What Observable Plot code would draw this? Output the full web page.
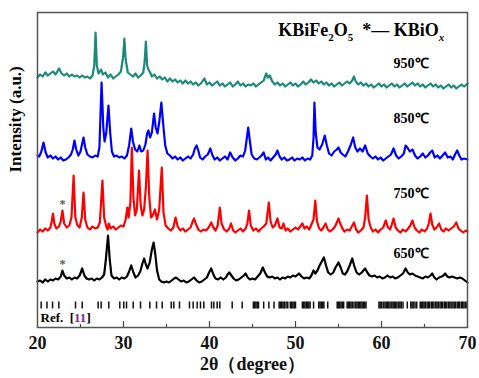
<!DOCTYPE html>
<html>
<head>
<meta charset="utf-8">
<script src="https://cdn.jsdelivr.net/npm/d3@7"></script>
<script src="https://cdn.jsdelivr.net/npm/@observablehq/plot@0.6"></script>
<style>
  html, body { margin: 0; padding: 0; background: #fff; }
  #chart svg { display: block; }
</style>
</head>
<body>
<div id="chart"></div>
<script>
// ---- data: [2θ, intensity (a.u., offset per pattern)] ----
const s950 = [[20.0,250],[20.3,253],[20.6,251],[20.9,255],[21.2,252],[21.5,254],[21.8,256],[22.1,253],[22.5,259],[22.8,254],[23.1,252],[23.4,254],[23.7,251],[24.0,253],[24.3,251],[24.6,252],[24.9,250],[25.2,252],[25.5,250],[25.8,251],[26.1,249],[26.4,252],[26.6,262],[26.75,295],[26.9,262],[27.1,254],[27.4,258],[27.6,253],[27.9,255],[28.2,250],[28.5,253],[28.8,249],[29.1,251],[29.4,253],[29.7,256],[29.95,270],[30.1,289],[30.25,268],[30.5,255],[30.8,253],[31.1,251],[31.4,254],[31.7,250],[32.0,252],[32.3,255],[32.45,265],[32.6,286],[32.75,262],[32.9,258],[33.1,255],[33.3,251],[33.6,253],[33.9,249],[34.2,251],[34.5,248],[34.8,250],[35.1,246],[35.4,249],[35.7,246],[36.0,248],[36.3,245],[36.6,247],[36.9,244],[37.2,247],[37.5,244],[37.8,246],[38.1,243],[38.4,245],[38.7,242],[39.0,244],[39.4,249],[39.7,243],[40.0,245],[40.3,242],[40.6,244],[40.9,246],[41.2,242],[41.5,244],[41.8,241],[42.1,243],[42.4,245],[42.7,241],[43.0,243],[43.3,246],[43.6,242],[43.9,244],[44.2,241],[44.5,243],[44.8,242],[45.1,244],[45.4,241],[45.7,243],[46.0,245],[46.3,247],[46.6,254],[46.8,250],[47.0,252],[47.3,246],[47.6,243],[47.9,245],[48.2,242],[48.5,244],[48.8,241],[49.1,243],[49.4,245],[49.7,242],[50.0,244],[50.3,241],[50.6,243],[50.9,246],[51.2,243],[51.5,245],[51.8,248],[52.1,245],[52.4,247],[52.7,244],[53.0,246],[53.3,243],[53.6,245],[53.9,242],[54.2,244],[54.5,241],[54.8,243],[55.1,245],[55.4,242],[55.7,244],[56.0,246],[56.3,244],[56.6,247],[56.8,251],[57.0,246],[57.3,243],[57.6,245],[57.9,242],[58.2,244],[58.5,241],[58.8,243],[59.1,240],[59.4,242],[59.7,244],[60.0,241],[60.3,243],[60.6,240],[60.9,242],[61.2,244],[61.5,241],[61.8,243],[62.1,240],[62.4,242],[62.7,244],[63.0,241],[63.3,243],[63.6,245],[63.9,242],[64.2,244],[64.5,241],[64.8,243],[65.1,240],[65.4,242],[65.7,244],[66.0,241],[66.3,243],[66.6,240],[66.9,242],[67.2,239],[67.5,241],[67.8,243],[68.1,240],[68.4,242],[68.7,239],[69.0,241],[69.3,243],[69.6,241],[70.0,244]];

const s850 = [[20.0,172],[20.2,171],[20.45,176],[20.7,185],[20.95,175],[21.2,170],[21.5,172],[21.8,169],[22.1,171],[22.4,168],[22.7,170],[23.0,167],[23.3,168],[23.6,170],[23.9,173],[24.1,178],[24.3,187],[24.5,178],[24.75,172],[25.0,176],[25.2,184],[25.35,190],[25.55,180],[25.8,173],[26.1,171],[26.4,170],[26.7,172],[27.0,171],[27.2,180],[27.45,245],[27.65,200],[27.8,186],[28.0,195],[28.25,222],[28.45,195],[28.65,176],[28.9,171],[29.2,172],[29.5,170],[29.8,171],[30.1,169],[30.4,172],[30.65,182],[30.9,199],[31.1,186],[31.35,178],[31.6,176],[31.85,182],[32.05,176],[32.3,177],[32.55,183],[32.75,194],[32.9,197],[33.1,190],[33.3,195],[33.55,214],[33.75,200],[33.95,194],[34.15,205],[34.4,225],[34.6,205],[34.85,182],[35.1,174],[35.4,172],[35.7,169],[36.0,171],[36.3,168],[36.6,170],[36.9,167],[37.2,169],[37.5,171],[37.8,169],[38.1,173],[38.3,179],[38.5,182],[38.7,177],[38.9,170],[39.2,168],[39.5,171],[39.8,173],[40.1,179],[40.35,172],[40.6,168],[40.9,170],[41.2,167],[41.5,169],[41.8,171],[42.1,168],[42.4,175],[42.7,170],[43.0,167],[43.3,169],[43.6,172],[43.9,171],[44.15,177],[44.35,190],[44.5,200],[44.7,186],[44.9,173],[45.2,169],[45.5,168],[45.8,170],[46.05,172],[46.3,175],[46.55,168],[46.8,170],[47.1,167],[47.4,170],[47.7,173],[47.9,177],[48.15,171],[48.4,168],[48.7,170],[49.0,167],[49.3,168],[49.6,170],[49.9,167],[50.2,169],[50.5,168],[50.8,170],[51.1,167],[51.4,169],[51.7,168],[51.95,172],[52.1,190],[52.2,225],[52.35,195],[52.55,180],[52.8,178],[53.1,183],[53.4,192],[53.65,182],[53.9,174],[54.2,172],[54.5,176],[54.8,178],[55.0,180],[55.25,175],[55.5,173],[55.8,171],[56.1,176],[56.4,182],[56.7,190],[56.95,180],[57.2,176],[57.5,179],[57.8,176],[58.1,182],[58.4,174],[58.7,171],[59.0,169],[59.3,171],[59.6,168],[59.9,170],[60.2,167],[60.5,169],[60.8,171],[61.1,173],[61.4,179],[61.7,172],[62.0,169],[62.3,171],[62.6,174],[62.8,182],[63.0,180],[63.3,176],[63.6,178],[63.9,172],[64.2,169],[64.5,171],[64.8,174],[65.1,170],[65.4,172],[65.65,175],[65.9,177],[66.2,170],[66.5,172],[66.8,169],[67.1,172],[67.4,175],[67.7,170],[68.0,171],[68.3,168],[68.55,173],[68.8,177],[69.05,172],[69.3,168],[69.6,169],[70.0,168]];

const s750 = [[20.0,95],[20.3,98],[20.6,96],[20.9,99],[21.2,97],[21.5,100],[21.65,106],[21.8,114],[21.95,104],[22.2,99],[22.5,101],[22.7,106],[22.9,117],[23.1,104],[23.4,100],[23.7,102],[23.95,110],[24.2,152],[24.4,110],[24.65,102],[24.9,100],[25.15,110],[25.35,135],[25.55,108],[25.8,100],[26.1,98],[26.4,101],[26.7,99],[27.0,100],[27.25,105],[27.55,147],[27.75,110],[28.0,101],[28.15,98],[28.3,104],[28.5,99],[28.8,101],[29.1,98],[29.4,100],[29.7,102],[30.0,101],[30.25,108],[30.45,120],[30.6,110],[30.8,125],[30.97,180],[31.15,130],[31.35,112],[31.55,118],[31.8,157],[32.0,122],[32.2,112],[32.4,118],[32.6,140],[32.8,177],[33.0,130],[33.2,110],[33.4,112],[33.65,118],[33.9,108],[34.15,118],[34.45,160],[34.65,115],[34.9,102],[35.2,99],[35.5,97],[35.8,100],[36.05,110],[36.3,101],[36.6,97],[36.9,99],[37.2,96],[37.5,98],[37.8,100],[38.0,105],[38.2,109],[38.4,104],[38.7,98],[39.0,96],[39.3,98],[39.6,97],[39.9,100],[40.2,105],[40.45,100],[40.7,97],[40.95,102],[41.2,120],[41.4,104],[41.7,98],[42.0,96],[42.3,99],[42.5,104],[42.75,97],[43.0,95],[43.3,97],[43.6,99],[43.9,96],[44.2,99],[44.4,104],[44.6,117],[44.8,102],[45.1,97],[45.4,99],[45.7,96],[46.0,99],[46.3,101],[46.6,104],[46.9,125],[47.1,106],[47.35,100],[47.6,102],[47.9,109],[48.15,100],[48.4,99],[48.6,104],[48.85,97],[49.1,99],[49.4,96],[49.7,98],[50.0,100],[50.3,98],[50.55,101],[50.8,104],[51.05,99],[51.3,101],[51.6,98],[51.85,103],[52.1,108],[52.3,127],[52.5,106],[52.75,99],[53.0,97],[53.25,100],[53.5,104],[53.75,98],[54.0,96],[54.3,98],[54.6,101],[54.85,106],[55.0,109],[55.2,104],[55.45,99],[55.7,96],[56.0,98],[56.3,97],[56.55,101],[56.8,105],[57.05,98],[57.3,95],[57.6,97],[57.9,100],[58.1,110],[58.3,132],[58.5,108],[58.75,100],[59.0,96],[59.3,98],[59.6,95],[59.9,98],[60.2,100],[60.5,107],[60.75,100],[61.0,98],[61.2,103],[61.4,109],[61.65,100],[61.9,97],[62.2,95],[62.5,98],[62.8,96],[63.1,99],[63.35,102],[63.6,107],[63.85,100],[64.1,97],[64.4,95],[64.7,98],[65.0,96],[65.3,99],[65.5,104],[65.7,114],[65.9,103],[66.15,98],[66.4,100],[66.7,104],[66.95,98],[67.2,96],[67.5,99],[67.8,97],[68.1,99],[68.4,101],[68.7,105],[68.95,99],[69.2,97],[69.5,95],[69.8,97],[70.0,96]];

const s650 = [[20.0,46],[20.3,47],[20.6,45],[20.9,48],[21.2,46],[21.5,48],[21.8,47],[22.1,49],[22.4,48],[22.7,51],[22.9,57],[23.1,52],[23.4,49],[23.7,50],[24.0,48],[24.3,50],[24.6,49],[24.9,52],[25.2,59],[25.45,52],[25.7,49],[26.0,48],[26.3,49],[26.6,47],[26.9,49],[27.2,48],[27.5,50],[27.75,53],[27.95,68],[28.2,92],[28.4,68],[28.6,52],[28.9,49],[29.2,50],[29.5,48],[29.8,50],[30.1,49],[30.4,51],[30.65,56],[30.9,62],[31.15,55],[31.4,50],[31.7,52],[31.95,56],[32.2,64],[32.4,69],[32.6,63],[32.8,59],[33.05,65],[33.3,78],[33.5,85],[33.7,73],[33.9,57],[34.15,48],[34.4,46],[34.7,45],[35.0,46],[35.3,45],[35.6,47],[35.9,49],[36.1,50],[36.4,48],[36.7,46],[37.0,47],[37.3,45],[37.6,46],[37.9,48],[38.2,50],[38.5,47],[38.8,45],[39.1,46],[39.4,48],[39.7,50],[39.95,55],[40.2,59],[40.45,53],[40.7,49],[41.0,48],[41.3,50],[41.6,48],[41.9,50],[42.1,53],[42.3,55],[42.55,52],[42.8,49],[43.1,47],[43.4,48],[43.7,50],[44.0,52],[44.2,54],[44.45,50],[44.7,48],[45.0,49],[45.3,48],[45.6,51],[45.9,54],[46.2,60],[46.45,55],[46.7,51],[47.0,50],[47.3,51],[47.6,49],[47.9,50],[48.2,48],[48.5,50],[48.8,49],[49.1,51],[49.4,50],[49.7,52],[50.0,51],[50.4,54],[50.7,51],[51.0,49],[51.3,50],[51.6,49],[51.85,52],[52.1,57],[52.3,54],[52.55,57],[52.8,62],[53.05,66],[53.3,70],[53.55,62],[53.8,55],[54.1,53],[54.4,55],[54.65,60],[55.0,65],[55.25,60],[55.5,54],[55.75,53],[56.0,56],[56.3,62],[56.6,69],[56.85,61],[57.1,55],[57.4,53],[57.7,55],[57.9,57],[58.1,59],[58.35,55],[58.6,52],[58.9,51],[59.2,52],[59.5,50],[59.8,51],[60.1,49],[60.4,50],[60.7,52],[61.0,50],[61.3,51],[61.6,49],[61.9,50],[62.2,52],[62.5,54],[62.8,59],[63.05,55],[63.3,53],[63.6,54],[63.9,52],[64.2,51],[64.5,50],[64.8,49],[65.1,51],[65.4,50],[65.7,52],[65.9,54],[66.15,50],[66.4,48],[66.7,50],[67.0,51],[67.2,52],[67.4,54],[67.65,51],[67.9,50],[68.2,51],[68.5,50],[68.8,49],[69.1,50],[69.4,49],[69.7,47],[70.0,45]];

// reference pattern (Ref. [11]) line positions, 2θ
const refPeaks = [20.43,21.1,21.75,22.48,24.42,25.2,27.05,27.4,28.29,29.57,30.03,30.35,31.13,31.98,33.06,33.84,34.5,35.55,35.85,36.51,37.67,38.1,38.57,38.95,39.34,40.23,40.5,40.89,41.2,42.64,
43.8,45.1,45.25,45.4,45.55,45.7,46.3,46.9,47.5,48.1,48.25,48.4,48.55,48.7,48.9,49.1,49.4,49.55,49.7,49.85,50.0,50.8,50.95,51.1,51.25,51.4,51.55,51.7,52.1,52.7,52.85,53.0,53.15,53.3,53.75,54.85,55.0,55.15,55.3,55.45,55.6,56.0,56.15,56.3,56.45,56.6,56.8,57.0,57.15,57.3,57.45,57.6,57.75,57.9,58.05,58.2,
59.7,59.85,60.0,60.2,60.4,60.55,60.7,60.85,61.0,61.2,61.35,61.5,61.65,61.8,62.0,62.15,62.3,62.5,63.0,63.4,63.55,63.7,63.9,64.1,64.5,64.65,64.8,64.95,65.1,65.3,65.45,65.6,65.8,65.95,66.1,66.3,66.45,66.6,66.8,66.95,67.1,67.3,67.45,67.6,67.8,67.95,68.1,68.3,68.45,68.6,68.8,68.95,69.1,69.3,69.45,69.6,69.8,69.95];

const tickLabels = [20, 30, 40, 50, 60, 70];
const majorTicks = [30, 40, 50, 60];
const minorTicks = [25, 35, 45, 55, 65];
const tempLabels = ["950℃", "850℃", "750℃", "650℃"];
const asteriskAt = [22.9];
const xLabel = "2θ（degree）";
const yLabel = "Intensity (a.u.)";
const legendText = "KBiFe2O5  *— KBiOx";
const refText = "Ref.  [11]";

const serif = "'Liberation Serif', 'Times New Roman', serif";
const acc = {x: d => d[0], y: d => d[1]};

const plot = Plot.plot({
  width: 479,
  height: 378,
  marginTop: 12,
  marginBottom: 51,
  marginLeft: 37,
  marginRight: 12,
  style: {fontFamily: serif, background: "white", overflow: "visible"},
  x: {domain: [20, 70]},
  y: {domain: [0, 315]},
  marks: [
    Plot.axisX({ticks: tickLabels, tickSize: 0, tickPadding: 9, fontSize: 18, fontWeight: "bold", fill: "#111",
      label: xLabel, labelAnchor: "center", labelArrow: "none", labelOffset: 42}),
    Plot.axisY({ticks: [], label: null}),
    Plot.ruleX(refPeaks, {x: d => d, y1: 18.5, y2: 25.5, stroke: "#111", strokeWidth: 1.5}),
    Plot.ruleX(majorTicks, {x: d => d, y1: 0, y2: 6, stroke: "#444", strokeWidth: 1.2}),
    Plot.ruleX(minorTicks, {x: d => d, y1: 0, y2: 3, stroke: "#444", strokeWidth: 1.2}),
    Plot.line(s650, {...acc, stroke: "#000000", strokeWidth: 2.2}),
    Plot.line(s750, {...acc, stroke: "#ff0000", strokeWidth: 2.2}),
    Plot.line(s850, {...acc, stroke: "#0000ff", strokeWidth: 2.2}),
    Plot.line(s950, {...acc, stroke: "#1a8a7a", strokeWidth: 2.2}),
    Plot.text(asteriskAt, {x: d => d, y: 123, text: () => "*", fontSize: 12, fill: "#555", fontWeight: "bold"}),
    Plot.text(asteriskAt, {x: d => d, y: 63, text: () => "*", fontSize: 12, fill: "#555", fontWeight: "bold"}),
    Plot.text([tempLabels[0]], {x: 61.4, y: 260, text: d => d, textAnchor: "start", lineAnchor: "bottom", fontSize: 14, fontWeight: "bold"}),
    Plot.text([tempLabels[1]], {x: 61.4, y: 205, text: d => d, textAnchor: "start", lineAnchor: "bottom", fontSize: 14, fontWeight: "bold"}),
    Plot.text([tempLabels[2]], {x: 61.4, y: 130, text: d => d, textAnchor: "start", lineAnchor: "bottom", fontSize: 14, fontWeight: "bold"}),
    Plot.text([tempLabels[3]], {x: 61.4, y: 70, text: d => d, textAnchor: "start", lineAnchor: "bottom", fontSize: 14, fontWeight: "bold"}),
    Plot.text([legendText], {x: 48.0, y: 292, text: d => d, textAnchor: "start", lineAnchor: "bottom", fontSize: 18, fontWeight: "bold"}),
    Plot.text([refText], {x: 20.35, y: 6, text: d => d, textAnchor: "start", lineAnchor: "bottom", fontSize: 13, fontWeight: "bold"}),
    Plot.text([yLabel], {frameAnchor: "left", y: 155, text: d => d, rotate: -90, dx: -22, fontSize: 17, fontWeight: "bold"}),
    Plot.frame({stroke: "#555", strokeWidth: 1.5})
  ]
});

document.getElementById("chart").appendChild(plot);

// rich text: subscripts and coloured reference number
const svg = d3.select(plot);
svg.selectAll("text").each(function() {
  const t = d3.select(this);
  const s = this.textContent;
  if (s === legendText) {
    t.text(null);
    const parts = [["KBiFe", 0], ["2", 1], ["O", -1], ["5", 1], ["  *\u2014 KBiO", -1], ["x", 2]];
    for (const [str, kind] of parts) {
      const sp = t.append("tspan").text(str).attr("xml:space", "preserve");
      if (kind === 1 || kind === 2) sp.attr("dy", 5).attr("font-size", 11);
      if (kind === -1) sp.attr("dy", -5);
      if (kind === 2) sp.attr("font-style", "italic");
    }
    t.attr("xml:space", "preserve");
  } else if (s === refText) {
    t.text(null).attr("xml:space", "preserve");
    t.append("tspan").text("Ref.  [");
    t.append("tspan").text("11").attr("fill", "#7a2b8f");
    t.append("tspan").text("]");
  }
});
</script>
</body>
</html>
